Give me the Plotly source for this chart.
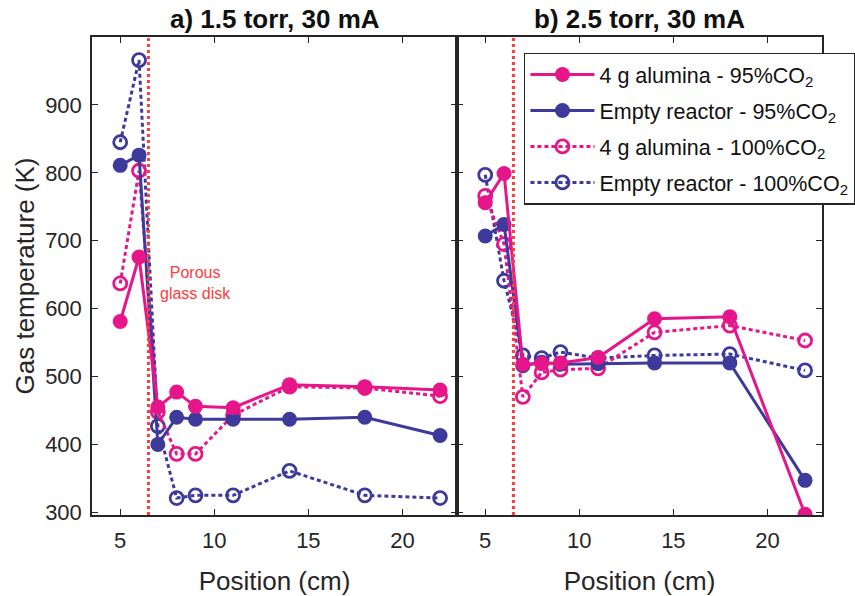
import plotly.graph_objects as go
from plotly.subplots import make_subplots

positions = [5, 6, 7, 8, 9, 11, 14, 18, 22]

# Panel a) 1.5 torr, 30 mA
a_alumina_95 = [581, 676, 455, 477, 456, 454, 488, 485, 480]
a_empty_95 = [811, 826, 400, 440, 437, 437, 437, 440, 413]
a_alumina_100 = [637, 803, 448, 386, 386, 443, 485, 483, 471]
a_empty_100 = [845, 966, 427, 321, 325, 325, 361, 325, 321]

# Panel b) 2.5 torr, 30 mA
b_alumina_95 = [756, 799, 518, 519, 520, 528, 585, 588, 297]
b_empty_95 = [707, 724, 516, 521, 518, 519, 520, 520, 347]
b_alumina_100 = [766, 695, 470, 506, 510, 512, 565, 575, 553]
b_empty_100 = [797, 641, 531, 527, 536, 527, 531, 533, 509]

series_names = [
    "4 g alumina - 95%CO<sub>2</sub>",
    "Empty reactor - 95%CO<sub>2</sub>",
    "4 g alumina - 100%CO<sub>2</sub>",
    "Empty reactor - 100%CO<sub>2</sub>",
]
panel_titles = ["a) 1.5 torr, 30 mA", "b) 2.5 torr, 30 mA"]
disk_position = 6.5
y_ticks = [300, 400, 500, 600, 700, 800, 900]
x_ticks = [5, 10, 15, 20]

PINK = "#E6168A"
BLUE = "#3D3A9C"
RED = "#FF3B3B"
AX = "#262626"
FONT = "Liberation Sans, Arial"

fig = make_subplots(rows=1, cols=2, shared_yaxes=True, horizontal_spacing=0.0)

styles = [
    dict(color=PINK, dash="solid", symbol="circle"),
    dict(color=BLUE, dash="solid", symbol="circle"),
    dict(color=PINK, dash="4px,3px", symbol="circle-open"),
    dict(color=BLUE, dash="4px,3px", symbol="circle-open"),
]
panels = [
    [a_alumina_95, a_empty_95, a_alumina_100, a_empty_100],
    [b_alumina_95, b_empty_95, b_alumina_100, b_empty_100],
]

for col, data in enumerate(panels, start=1):
    for i in [3, 2, 1, 0]:
        st = styles[i]
        filled = st["symbol"] == "circle"
        fig.add_trace(
            go.Scatter(
                x=positions, y=data[i], mode="lines+markers",
                name=series_names[i], legendrank=i + 1, legendgroup=f"g{i}",
                showlegend=(col == 2),
                line=dict(color=st["color"], width=3, dash=st["dash"]),
                marker=dict(symbol=st["symbol"], size=15 if filled else 13,
                            color=st["color"],
                            line=dict(color=st["color"], width=2.8 if not filled else 0)),
            ),
            row=1, col=col,
        )
    fig.add_trace(
        go.Scatter(x=[disk_position, disk_position], y=[296, 1000], mode="lines",
                   line=dict(color=RED, width=3, dash="3px,3px"),
                   showlegend=False, hoverinfo="skip"),
        row=1, col=col,
    )

axis_common = dict(
    showline=True, linecolor=AX, linewidth=1.5, mirror="ticks",
    ticks="inside", ticklen=6, tickwidth=1.3, tickcolor=AX,
    showgrid=False, zeroline=False, automargin=False,
    tickfont=dict(family=FONT, size=22, color=AX),
)

fig.update_xaxes(**axis_common, range=[3.5, 22.9], tickvals=x_ticks,
                 ticklabelstandoff=5,
                 title=dict(text="Position (cm)",
                            font=dict(family=FONT, size=26, color=AX),
                            standoff=22))
fig.update_yaxes(**axis_common, range=[296, 1000], tickvals=y_ticks,
                 ticklabelstandoff=4)
fig.update_yaxes(title=dict(text="Gas temperature (K)",
                            font=dict(family=FONT, size=26, color=AX),
                            standoff=3), row=1, col=1)
fig.update_layout(xaxis=dict(domain=[0, 0.5]), xaxis2=dict(domain=[0.5, 1.0]))

for k, t in enumerate(panel_titles):
    fig.add_annotation(text="<b>" + t + "</b>", xref="paper", yref="paper",
                       x=0.25 + 0.5 * k, y=1.0, yshift=1, xanchor="center", yanchor="bottom",
                       showarrow=False,
                       font=dict(family=FONT, size=26, color="#111111"))

fig.add_annotation(text="Porous<br>glass disk", x=9.0, y=638, xref="x", yref="y",
                   showarrow=False, font=dict(family=FONT, size=16, color=RED))

fig.update_layout(
    width=855, height=596,
    margin=dict(l=92, r=33, t=37, b=81, autoexpand=False),
    paper_bgcolor="white", plot_bgcolor="white",
    showlegend=True,
    legend=dict(x=0.592, y=0.967, xanchor="left", yanchor="top",
                bgcolor="white", bordercolor=AX, borderwidth=1.3,
                font=dict(family=FONT, size=21.5, color="#111111"),
                traceorder="grouped", itemwidth=64, tracegroupgap=5),
)

fig.write_html("out.html", config={"displayModeBar": False},
               post_script="document.body.style.margin='0';")
